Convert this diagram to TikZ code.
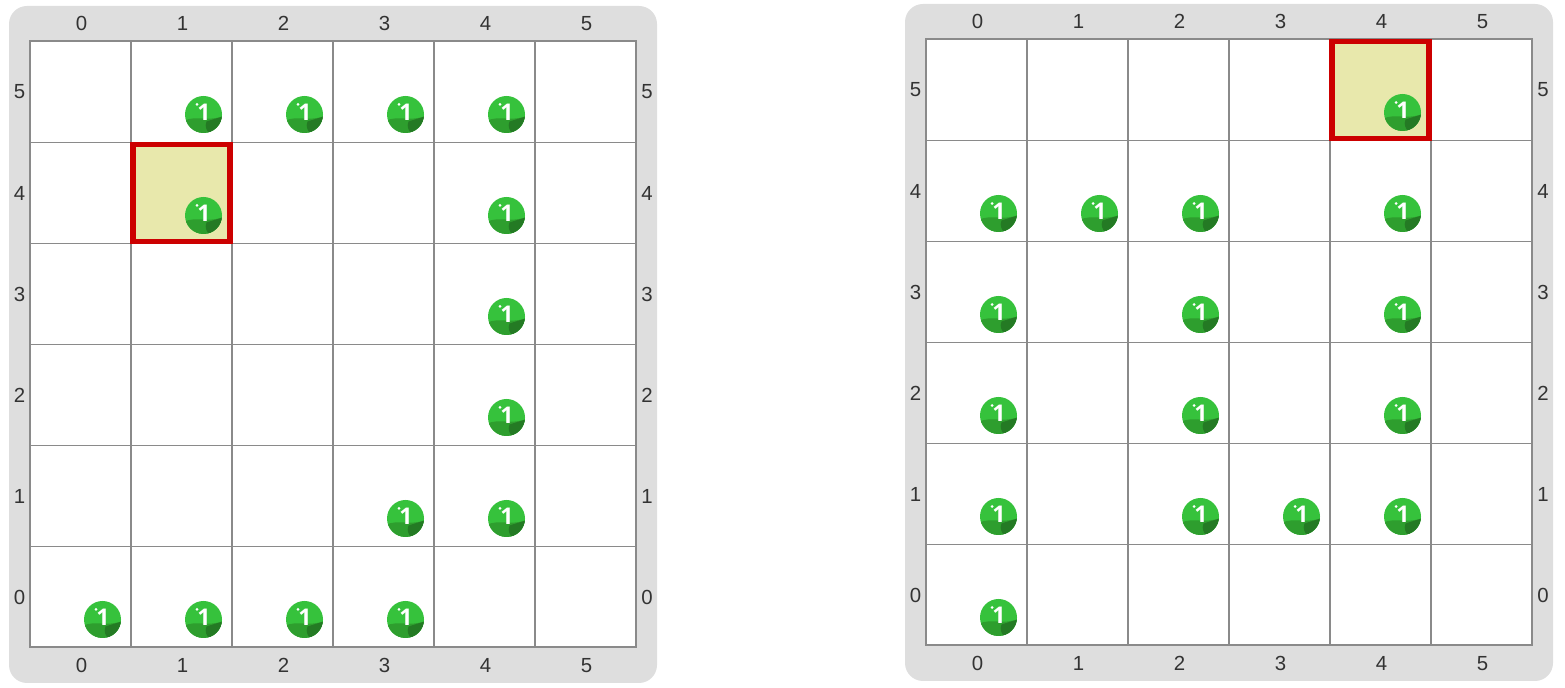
\documentclass[tikz,border=0pt]{standalone}
\usepackage{fontspec}
\setmainfont{Liberation Sans}
\newfontfamily\beadfont{Open Sans}
\usetikzlibrary{calc}
\definecolor{panelgray}{HTML}{DEDEDE}
\definecolor{gridgray}{HTML}{8A8A8A}
\definecolor{labeldark}{HTML}{333333}
\definecolor{cursorfill}{HTML}{E8E8AC}
\definecolor{cursorred}{HTML}{CC0000}
\definecolor{beadlight}{HTML}{36C23C}
\definecolor{beadmid}{HTML}{2E9E2E}
\definecolor{beaddark}{HTML}{247A24}
\tikzset{
  panel/.style={fill=panelgray, rounded corners=9pt},
  cell/.style={draw=gridgray, line width=0.8pt, fill=white, minimum size=50.5pt, inner sep=0pt, outer sep=0pt},
  border/.style={draw=gridgray, line width=1pt},
  cursor/.style={draw=cursorred, line width=2.75pt, fill=cursorfill, minimum size=48.5pt, inner sep=0pt},
  ticklabel/.style={text=labeldark, font=\fontsize{10.2}{12}\selectfont, inner sep=0pt},
  pics/bead/.style={code={
    \fill[beadlight] (0,0) circle (18.5);
    \begin{scope}
      \clip (0,0) circle (18.5);
      \fill[beadmid] (-19,6) .. controls (-8,1) and (4,7) .. (19,2) -- (19,19) -- (-19,19) -- cycle;
      \fill[beaddark] (3,7) .. controls (1,12) and (3,16) .. (6,19) -- (19,19) -- (19,2) -- cycle;
    \end{scope}
    \fill[white] (-6.5,-10) circle (1.5);
    \node[text=white, font=\beadfont\bfseries\fontsize{11.5}{11.5}\selectfont, inner sep=0pt] (-digit) at (0.5,-2) {1};
  }}
}
% #1 board name, #2/#3 top left of the grid, #4 cursor cell, #5 beads as column/row
\newcommand{\drawboard}[5]{
  \fill[panel] ($(#2,#3)+(-21,-35.5)$) rectangle ($(#2,#3)+(627,641.5)$);
  \foreach \c in {0,...,5}
    \foreach \r in {0,...,5}
      \node[cell] (#1-\c-\r) at ($(#2,#3)+(50.5,50.5)+(101*\c,505-101*\r)$) {};
  \draw[border] (#1-0-5.north west) rectangle (#1-5-0.south east);
  \node[cursor] (#1-cursor) at (#1-#4) {};
  \foreach \c/\r in {#5}
    \pic (#1-bead-\c-\r) at ($(#1-\c-\r)+(22,22.5)$) {bead};
  \foreach \i in {0,...,5} {
    \node[ticklabel] (#1-top-\i) at ($(#1-\i-5.north)+(1,-18)$) {\i};
    \node[ticklabel] (#1-bottom-\i) at ($(#1-\i-0.south)+(1,18)$) {\i};
    \node[ticklabel] (#1-left-\i) at ($(#1-0-\i.west)+(-10.5,0)$) {\i};
    \node[ticklabel] (#1-right-\i) at ($(#1-5-\i.east)+(11,0)$) {\i};
  }
}
\begin{document}
\begin{tikzpicture}[x=0.5pt, y=-0.5pt]
  \useasboundingbox (0,0) rectangle (1565,688);
  \drawboard{before}{30}{41.5}{1-4}{1/5,2/5,3/5,4/5,1/4,4/4,4/3,4/2,3/1,4/1,0/0,1/0,2/0,3/0}
  \drawboard{after}{926}{39.5}{4-5}{4/5,0/4,1/4,2/4,4/4,0/3,2/3,4/3,0/2,2/2,4/2,0/1,2/1,3/1,4/1,0/0}
\end{tikzpicture}
\end{document}
